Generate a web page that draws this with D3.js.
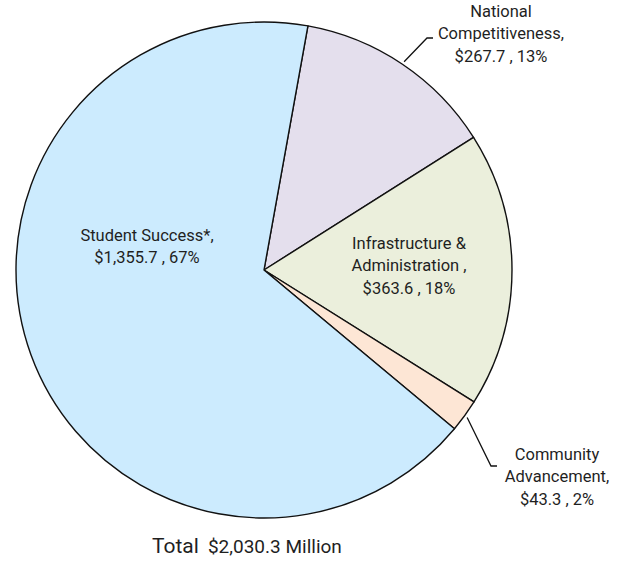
<!DOCTYPE html>
<html>
<head>
<meta charset="utf-8">
<script src="https://cdn.jsdelivr.net/npm/d3@7/dist/d3.min.js"></script>
<style>
  html, body { margin: 0; padding: 0; background: #fff; }
  svg { display: block; }
  text { font-family: Roboto, "Liberation Sans", Arial, sans-serif; fill: #1f1f1f; }
</style>
</head>
<body>
<svg id="chart" width="623" height="563"></svg>
<script>
// Budget allocation by priority area ($ millions)
const categories = ["National Competitiveness", "Infrastructure & Administration", "Community Advancement", "Student Success*"];
const values = [267.7, 363.6, 43.3, 1355.7];
const labelNames = [["National", "Competitiveness,"], ["Infrastructure &", "Administration ,"], ["Community", "Advancement,"], ["Student Success*,"]];
const colors = ["#e4dfed", "#ebefdc", "#fde6d5", "#ccebfe"];
const totalLabel = ["Total", "$2,030.3 Million"];

const width = 623, height = 563;
const cx = 264, cy = 270, radius = 248;
const firstSliceAngle = 10.2 * Math.PI / 180;

const svg = d3.select("#chart");
const g = svg.append("g").attr("transform", `translate(${cx},${cy})`);

const total = d3.sum(values);
const data = categories.map((c, i) => ({ name: c, value: values[i], lines: labelNames[i], color: colors[i] }));

const pie = d3.pie().sort(null).value(d => d.value)
  .startAngle(firstSliceAngle).endAngle(firstSliceAngle + 2 * Math.PI);
const arcs = pie(data);
const arc = d3.arc().innerRadius(0).outerRadius(radius);

g.selectAll("path.slice").data(arcs).join("path")
  .attr("class", "slice")
  .attr("d", arc)
  .attr("fill", d => d.data.color)
  .attr("stroke", "#111")
  .attr("stroke-width", 1.4)
  .attr("stroke-linejoin", "round");

const fmtMoney = d3.format("$,.1f");
const valueLine = d => `${fmtMoney(d.value)} , ${Math.round(d.value / total * 100)}%`;

// label placement: [x, y of first line] relative to centre, plus optional leader elbow
const labelLayout = [
  { x: 237, y: -259, anchor: "middle", leader: { elbowX: 163, elbowY: -232, endX: 169 } },
  { x: 145, y: -27, anchor: "middle" },
  { x: 293, y: 184, anchor: "middle", leader: { elbowX: 227, elbowY: 196, endX: 233 } },
  { x: -117, y: -35, anchor: "middle" }
];
const lineH = 22.5;
const fontSize = 16.5;

arcs.forEach((a, i) => {
  const L = labelLayout[i];
  const lines = a.data.lines.concat([valueLine(a.data)]);
  const t = g.append("text")
    .attr("text-anchor", L.anchor)
    .attr("font-size", fontSize);
  lines.forEach((ln, k) => {
    t.append("tspan").attr("x", L.x).attr("y", L.y + k * lineH).attr("dy", "0.35em").text(ln);
  });
  if (L.leader) {
    const mid = (a.startAngle + a.endAngle) / 2;
    const r0 = radius + 3;
    const sx = r0 * Math.sin(mid), sy = -r0 * Math.cos(mid);
    g.append("path")
      .attr("d", `M${sx},${sy}L${L.leader.elbowX},${L.leader.elbowY}L${L.leader.endX},${L.leader.elbowY}`)
      .attr("fill", "none")
      .attr("stroke", "#111")
      .attr("stroke-width", 1.3);
  }
});

// total caption
const cap = svg.append("text").attr("y", 547).attr("dy", "0.35em");
cap.append("tspan").attr("x", 152).attr("font-size", 21).text(totalLabel[0]);
cap.append("tspan").attr("dx", 9).attr("font-size", 19).text(totalLabel[1]);
</script>
</body>
</html>
